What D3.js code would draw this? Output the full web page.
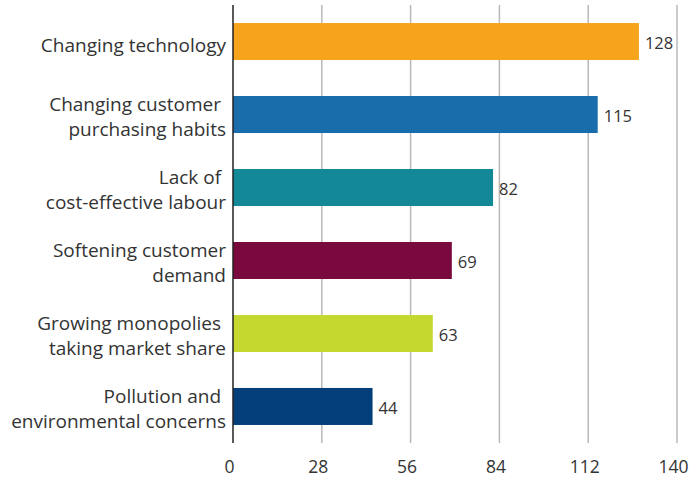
<!DOCTYPE html>
<html>
<head>
<meta charset="utf-8">
<script src="https://cdn.jsdelivr.net/npm/d3@7"></script>
<style>
  html, body { margin: 0; padding: 0; background: #fff; }
  svg text { font-family: "Open Sans", sans-serif; fill: #333; }
</style>
</head>
<body>
<svg id="chart" width="699" height="479"></svg>
<script>
// Reasons cited, with the number of respondents for each
const categories = [
  ["Changing technology"],
  ["Changing customer ", "purchasing habits"],
  ["Lack of ", "cost-effective labour"],
  ["Softening customer", "demand"],
  ["Growing monopolies ", "taking market share"],
  ["Pollution and ", "environmental concerns"]
];
const values = [128, 115, 82, 69, 63, 44];
const colors = ["#f7a41d", "#1a6dab", "#138896", "#7a0a3e", "#c5d82f", "#053f7b"];
const tickValues = [0, 28, 56, 84, 112, 140];

const svg = d3.select("#chart");
const keys = categories.map(c => c.join(""));

const x = d3.scaleLinear().domain([0, 140]).range([233, 677]);
const y = d3.scaleBand().domain(keys).range([5, 443]).paddingInner(0.493).paddingOuter(0.247);

// vertical gridlines
svg.append("g").selectAll("line")
  .data(tickValues.slice(1))
  .join("line")
  .attr("x1", d => x(d)).attr("x2", d => x(d))
  .attr("y1", 5).attr("y2", 443)
  .attr("stroke", "#b8b8b8").attr("stroke-width", 1.5);

// bottom axis tick labels
const xAxis = d3.axisBottom(x).tickValues(tickValues).tickSize(0).tickPadding(0);
const gx = svg.append("g").attr("transform", "translate(-4,473)").call(xAxis);
gx.select(".domain").remove();
gx.selectAll("text")
  .attr("dy", null).attr("y", 0)
  .style("font-size", "17.5px").style("font-family", "'Open Sans', sans-serif").attr("fill", "#333");

// bars
svg.append("g").selectAll("rect")
  .data(values)
  .join("rect")
  .attr("x", x(0))
  .attr("y", (d, i) => y(keys[i]))
  .attr("width", d => x(d) - x(0))
  .attr("height", y.bandwidth())
  .attr("fill", (d, i) => colors[i]);

// value labels
svg.append("g").selectAll("text")
  .data(values)
  .join("text")
  .attr("x", d => x(d) + 6)
  .attr("y", (d, i) => y(keys[i]) + y.bandwidth() / 2 + 7.5)
  .style("font-size", "16.5px")
  .text(d => d);

// category labels (one or two lines each)
const lineH = 25.5;
const labels = svg.append("g").selectAll("text")
  .data(categories)
  .join("text")
  .attr("text-anchor", "end")
  .style("font-size", "19px")
  .style("white-space", "pre")
  .attr("transform", (d, i) => `translate(226,${y(keys[i]) + y.bandwidth() / 2 + (d.length > 1 ? 9 : 10)})`);
labels.selectAll("tspan")
  .data(d => d.map((t, j) => ({ t, j, n: d.length })))
  .join("tspan")
  .attr("x", 0)
  .attr("y", d => (d.j - (d.n - 1) / 2) * lineH)
  .text(d => d.t);

// zero axis line
svg.append("line")
  .attr("x1", x(0)).attr("x2", x(0))
  .attr("y1", 5).attr("y2", 443)
  .attr("stroke", "#222").attr("stroke-width", 1.5);
</script>
</body>
</html>
